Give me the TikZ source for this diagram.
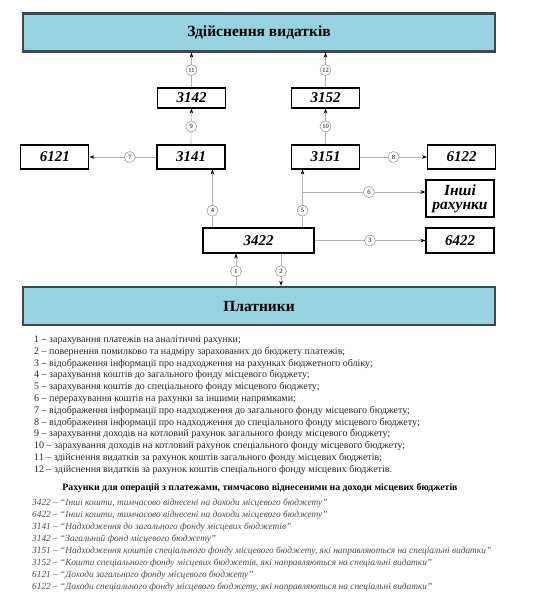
\documentclass[tikz,border=0pt]{standalone}
\usepackage{fontspec}
\setmainfont{Liberation Serif}
\usetikzlibrary{arrows.meta, positioning}

\definecolor{barblue}{RGB}{151,211,223}
\definecolor{barline}{RGB}{58,72,80}

\begin{document}
\begin{tikzpicture}[
    x=1pt, y=-1pt,
    acct/.style={draw, line width=1.1pt, fill=white, minimum width=68pt, minimum height=24pt, inner sep=1pt,
                 align=center, font=\fontsize{15}{15}\selectfont\bfseries\itshape},
    bar/.style={draw=barline, line width=2.4pt, fill=barblue, minimum width=472pt, minimum height=38pt,
                font=\fontsize{15.5}{16}\selectfont\bfseries},
    dep/.style={draw=black!30, line width=0.6pt, -{Stealth[black, length=5pt, width=3.6pt]}},
    num/.style={circle, draw=black!45, fill=white, line width=0.5pt, minimum size=11pt, inner sep=0pt,
                font=\fontsize{6.5}{7}\selectfont},
    legend/.style={anchor=west, inner sep=0pt, text=black!85, font=\fontsize{10}{12}\selectfont},
    acctnote/.style={legend, text=black!70, font=\fontsize{9.35}{12}\selectfont\itshape}
]
    \useasboundingbox (0,0) rectangle (560,598);

    % bars
    \node[bar] (spend) at (259,32.5) {Здійснення видатків};
    \node[bar] (payers) at (259,306) {Платники};

    % accounts
    \node[acct, minimum height=20pt] (k3142) at (191.5,98) {3142};
    \node[acct, minimum height=20pt] (k3152) at (325.5,98) {3152};
    \node[acct] (k3141) at (191,157) {3141};
    \node[acct] (k3151) at (325.5,157) {3151};
    \node[acct, left=67pt of k3141] (k6121) {6121};
    \node[acct, right=67pt of k3151] (k6122) {6122};
    \node[acct, minimum width=111pt, minimum height=25pt] (k3422) at (258.5,240.5) {3422};
    \node[acct, minimum height=25pt] (k6422) at (460,240.5) {6422};
    \node[acct, minimum height=37pt, font=\fontsize{15.5}{14}\selectfont\bfseries\itshape] (inshi) at (460,198.5) {Інші\\рахунки};

    \coordinate (fork) at ([xshift=-12pt]k3422.north east |- 0,192);

    % connectors
    \draw[dep] (k3142.north) -- node[num] {11} (k3142.north |- spend.south);
    \draw[dep] (k3152.north) -- node[num] {12} (k3152.north |- spend.south);
    \draw[dep] (k3141.north) -- node[num] {9} (k3142.south);
    \draw[dep] (k3151.north) -- node[num] {10} (k3152.south);
    \draw[dep] (k3141.west) -- node[num, pos=0.4] {7} (k6121.east);
    \draw[dep] (k3151.east) -- node[num] {8} (k6122.west);
    \draw[dep] ([xshift=10pt]k3422.north west) -- node[num, pos=0.29] {4} ([xshift=10pt]k3422.north west |- k3141.south);
    \draw[dep] ([xshift=-12pt]k3422.north east) -- node[num, pos=0.29] {5} ([xshift=-12pt]k3422.north east |- k3151.south);
    \draw[dep] (fork) -- node[num, pos=0.54] {6} (fork -| inshi.west);
    \draw[dep] (k3422.east) -- node[num] {3} (k6422.west);
    \draw[dep] ([xshift=-22.5pt]k3422.south |- payers.north) -- node[num, pos=0.45] {1} ([xshift=-22.5pt]k3422.south);
    \draw[dep] ([xshift=22.5pt]k3422.south) -- node[num, pos=0.55] {2} ([xshift=22.5pt]k3422.south |- payers.north);

    % legend
    \node[legend] (l1) at (34,340) {1 – зарахування платежів на аналітичні рахунки;};
    \node[legend] (l2) at (34,351.8) {2 – повернення помилково та надміру зарахованих до бюджету платежів;};
    \node[legend] (l3) at (34,363.6) {3 – відображення інформації про надходження на рахунках бюджетного обліку;};
    \node[legend] (l4) at (34,375.4) {4 – зарахування коштів до загального фонду місцевого бюджету;};
    \node[legend] (l5) at (34,387.2) {5 – зарахування коштів до спеціального фонду місцевого бюджету;};
    \node[legend] (l6) at (34,399) {6 – перерахування коштів на рахунки за іншими напрямками;};
    \node[legend] (l7) at (34,410.8) {7 – відображення інформації про надходження до загального фонду місцевого бюджету;};
    \node[legend] (l8) at (34,422.6) {8 – відображення інформації про надходження до спеціального фонду місцевого бюджету;};
    \node[legend] (l9) at (34,434.4) {9 – зарахування доходів на котловий рахунок загального фонду місцевого бюджету;};
    \node[legend] (l10) at (34,446.2) {10 – зарахування доходів на котловий рахунок спеціального фонду місцевого бюджету;};
    \node[legend] (l11) at (34,458) {11 – здійснення видатків за рахунок коштів загального фонду місцевих бюджетів;};
    \node[legend] (l12) at (34,469.8) {12 – здійснення видатків за рахунок коштів спеціального фонду місцевих бюджетів.};

    \node[legend, anchor=center, text=black, font=\fontsize{9.8}{12}\selectfont\bfseries] (head) at (260,488)
        {Рахунки для операцій з платежами, тимчасово віднесеними на доходи місцевих бюджетів};

    \node[acctnote] (n3422) at (32,503) {3422 – “Інші кошти, тимчасово віднесені на доходи місцевого бюджету”};
    \node[acctnote] (n6422) at (32,515) {6422 – “Інші кошти, тимчасово віднесені на доходи місцевого бюджету”};
    \node[acctnote] (n3141) at (32,527) {3141 – “Надходження до загального фонду місцевих бюджетів”};
    \node[acctnote] (n3142) at (32,539) {3142 – “Загальний фонд місцевого бюджету”};
    \node[acctnote] (n3151) at (32,551) {3151 – “Надходження коштів спеціального фонду місцевого бюджету, які направляються на спеціальні видатки”};
    \node[acctnote] (n3152) at (32,563) {3152 – “Кошти спеціального фонду місцевих бюджетів, які направляються на спеціальні видатки”};
    \node[acctnote] (n6121) at (32,575) {6121 – “Доходи загального фонду місцевого бюджету”};
    \node[acctnote] (n6122) at (32,587) {6122 – “Доходи спеціального фонду місцевого бюджету, які направляються на спеціальні видатки”};
\end{tikzpicture}
\end{document}
